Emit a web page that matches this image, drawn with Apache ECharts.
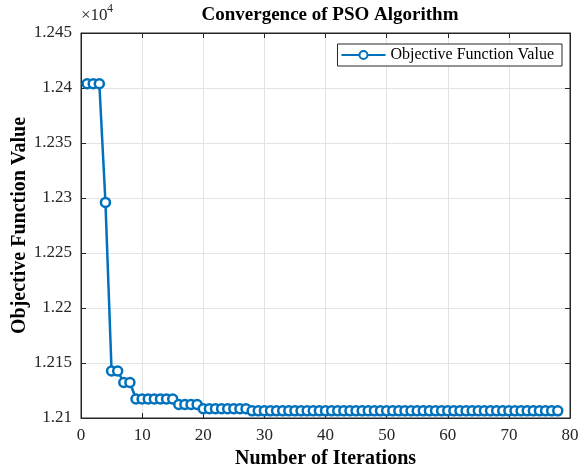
<!DOCTYPE html>
<html>
<head>
<meta charset="utf-8">
<script src="https://cdn.jsdelivr.net/npm/echarts@6/dist/echarts.min.js"></script>
<style>
  html, body { margin: 0; padding: 0; background: #fff; }
  #main { width: 578px; height: 471px; }
</style>
</head>
<body>
<div id="main"></div>
<script>
// 迭代次数与目标函数值
var iterations = [];
for (var i = 1; i <= 78; i++) {
  iterations.push(i);
}
var objectiveValues = [
  12403.9, 12403.9, 12403.9, 12296.0, 12142.7, 12142.7, 12132.3, 12132.3,
  12117.3, 12117.3, 12117.3, 12117.3, 12117.3, 12117.3, 12117.3,
  12112.3, 12112.3, 12112.3, 12112.3,
  12108.4, 12108.4, 12108.4, 12108.4, 12108.4, 12108.4, 12108.4, 12108.4,
  12106.5, 12106.5, 12106.5, 12106.5, 12106.5, 12106.5, 12106.5, 12106.5,
  12106.5, 12106.5, 12106.5, 12106.5, 12106.5, 12106.5, 12106.5, 12106.5,
  12106.5, 12106.5, 12106.5, 12106.5, 12106.5, 12106.5, 12106.5, 12106.5,
  12106.5, 12106.5, 12106.5, 12106.5, 12106.5, 12106.5, 12106.5, 12106.5,
  12106.5, 12106.5, 12106.5, 12106.5, 12106.5, 12106.5, 12106.5, 12106.5,
  12106.5, 12106.5, 12106.5, 12106.5, 12106.5, 12106.5, 12106.5, 12106.5,
  12106.5, 12106.5, 12106.5
];
var seriesName = 'Objective Function Value';

var serif = '"Liberation Serif", "DejaVu Serif", serif';
var textColor = '#262626';

var pairs = [];
for (var k = 0; k < iterations.length; k++) {
  pairs.push([iterations[k], objectiveValues[k]]);
}

var myChart = echarts.init(document.getElementById('main'));
var option = {
  backgroundColor: '#fff',
  animation: false,
  title: {
    text: 'Convergence of PSO Algorithm',
    left: 325,
    top: 1,
    textAlign: 'center',
    textStyle: {
      fontFamily: serif,
      fontWeight: 'bold',
      fontSize: 19,
      color: '#000'
    }
  },
  grid: {
    left: 81,
    right: 8,
    top: 33,
    bottom: 53,
    containLabel: false,
    outerBoundsMode: 'none',
    show: true,
    borderColor: textColor,
    borderWidth: 1
  },
  legend: {
    data: [seriesName],
    right: 16,
    top: 44,
    itemWidth: 44,
    itemHeight: 10,
    itemGap: 4,
    padding: [3, 8, 3, 3],
    borderColor: textColor,
    borderWidth: 1,
    backgroundColor: '#fff',
    textStyle: {
      fontFamily: serif,
      fontSize: 16,
      color: '#000'
    }
  },
  graphic: [
    {
      type: 'text',
      x: 81,
      y: 7,
      style: {
        text: '×10',
        font: '17px "Liberation Serif"',
        fill: textColor
      }
    },
    {
      type: 'text',
      x: 107,
      y: 3,
      style: {
        text: '4',
        font: '12px "Liberation Serif"',
        fill: textColor
      }
    }
  ],
  xAxis: [
    {
      type: 'value',
      min: 0,
      max: 80,
      interval: 10,
      name: 'Number of Iterations',
      nameLocation: 'middle',
      nameGap: 31,
      nameMoveOverlap: false,
      nameTextStyle: {
        fontFamily: serif,
        fontWeight: 'bold',
        fontSize: 20,
        color: '#000'
      },
      axisLine: { show: true, onZero: false, lineStyle: { color: textColor } },
      axisTick: { show: true, inside: true, length: 5, lineStyle: { color: textColor } },
      axisLabel: { fontFamily: serif, fontSize: 17, color: textColor, margin: 9 },
      splitLine: { show: true, lineStyle: { color: '#e3e3e3' } }
    },
    {
      type: 'value',
      position: 'top',
      min: 0,
      max: 80,
      interval: 10,
      axisLine: { show: true, onZero: false, lineStyle: { color: textColor } },
      axisTick: { show: true, inside: true, length: 5, lineStyle: { color: textColor } },
      axisLabel: { show: false },
      splitLine: { show: false }
    }
  ],
  yAxis: [
    {
      type: 'value',
      min: 12100,
      max: 12450,
      interval: 50,
      name: 'Objective Function Value',
      nameLocation: 'middle',
      nameGap: 51,
      nameMoveOverlap: false,
      nameTextStyle: {
        fontFamily: serif,
        fontWeight: 'bold',
        fontSize: 20,
        color: '#000'
      },
      axisLine: { show: true, onZero: false, lineStyle: { color: textColor } },
      axisTick: { show: true, inside: true, length: 5, lineStyle: { color: textColor } },
      axisLabel: {
        fontFamily: serif,
        fontSize: 17,
        color: textColor,
        margin: 9,
        formatter: function (v) {
          return String(Math.round(v) / 10000);
        }
      },
      splitLine: { show: true, lineStyle: { color: '#e3e3e3' } }
    },
    {
      type: 'value',
      position: 'right',
      min: 12100,
      max: 12450,
      interval: 50,
      axisLine: { show: true, onZero: false, lineStyle: { color: textColor } },
      axisTick: { show: true, inside: true, length: 5, lineStyle: { color: textColor } },
      axisLabel: { show: false },
      splitLine: { show: false }
    }
  ],
  series: [
    {
      name: seriesName,
      type: 'line',
      data: pairs,
      symbol: 'circle',
      symbolSize: 9,
      showAllSymbol: true,
      color: '#0072BD',
      lineStyle: { width: 2.5, color: '#0072BD' },
      itemStyle: { color: '#ffffff', borderColor: '#0072BD', borderWidth: 2.5 }
    }
  ]
};
myChart.setOption(option);
</script>
</body>
</html>
